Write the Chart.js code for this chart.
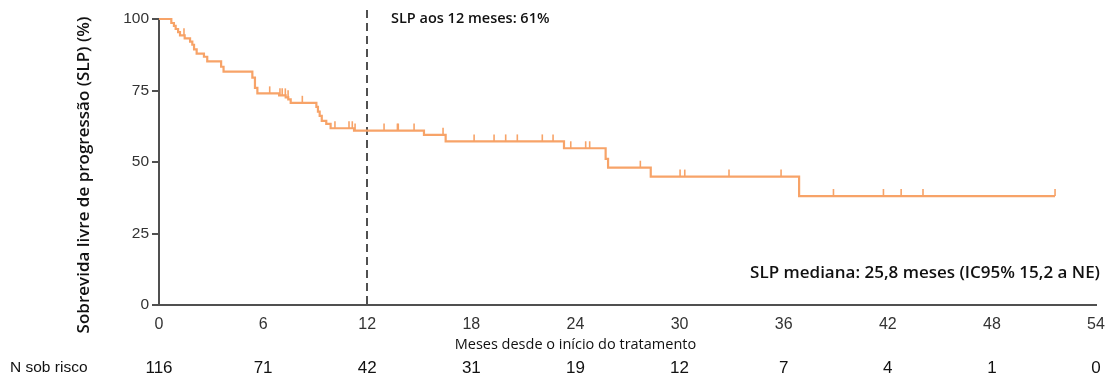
<!DOCTYPE html>
<html>
<head>
<meta charset="utf-8">
<script src="https://cdn.jsdelivr.net/npm/chart.js@4/dist/chart.umd.min.js"></script>
<style>
  html, body { margin: 0; padding: 0; background: #fff; }
  #wrap { width: 1116px; height: 383px; position: relative; }
</style>
</head>
<body>
<div id="wrap"><canvas id="km"></canvas></div>
<script>
// Kaplan–Meier steps: month of each event and survival (%) right after it
const eventMonths = [0, 0.71, 0.86, 0.96, 1.10, 1.21, 1.48, 1.79, 1.92, 2.02, 2.17, 2.59, 2.78,
  3.58, 3.72, 5.38, 5.53, 5.67, 6.92, 7.30, 7.45, 7.59, 9.07, 9.16, 9.26, 9.38, 9.64, 9.89,
  11.24, 15.27, 16.52, 23.34, 25.74, 25.88, 28.34, 36.89];
const survivalPct = [100, 98.6, 97.6, 96.5, 95.4, 94.3, 93.2, 92.1, 91.0, 89.4, 87.9, 86.8, 85.2,
  83.3, 81.6, 79.5, 75.9, 74.0, 73.3, 72.6, 71.9, 70.7, 69.3, 67.6, 66.1, 64.4, 63.3, 61.8,
  61.0, 59.5, 57.2, 54.8, 51.1, 48.0, 44.9, 38.1];
// Censored patients (months)
const censorMonths = [1.44, 6.38, 6.97, 7.10, 7.28, 7.44, 8.26, 10.14, 10.95, 11.14, 11.30,
  12.97, 13.74, 13.79, 14.70, 16.37, 18.16, 19.31, 19.98, 20.65, 22.09, 22.71, 23.73, 24.59,
  24.82, 27.74, 30.03, 30.30, 32.85, 35.85, 38.87, 41.75, 42.77, 44.03, 51.64];
const lastFollowUp = 51.64;

const xTickMonths = [0, 6, 12, 18, 24, 30, 36, 42, 48, 54];
const atRisk = [116, 71, 42, 31, 19, 12, 7, 4, 1, 0];
const yTickValues = [0, 25, 50, 75, 100];

const landmarkMonth = 12;
const landmarkLabel = 'SLP aos 12 meses: 61%';
const medianLabel = 'SLP mediana: 25,8 meses (IC95% 15,2 a NE)';
const yTitle = 'Sobrevida livre de progressão (SLP) (%)';
const xTitle = 'Meses desde o início do tratamento';
const riskTitle = 'N sob risco';

const curveColor = 'rgb(247,163,104)';
const axisColor = '#505050';

// Step curve points, extended to the last follow-up
const curvePoints = eventMonths.map((m, i) => ({ x: m, y: survivalPct[i] }));
curvePoints.push({ x: lastFollowUp, y: survivalPct[survivalPct.length - 1] });

function survivalAt(month) {
  let s = survivalPct[0];
  for (let i = 0; i < eventMonths.length; i++) {
    if (eventMonths[i] <= month) s = survivalPct[i];
  }
  return s;
}

const overlay = {
  id: 'kmOverlay',
  beforeDatasetsDraw(chart) {
    const { ctx, scales: { x, y } } = chart;
    // landmark dashed line at 12 months
    ctx.save();
    ctx.strokeStyle = axisColor;
    ctx.lineWidth = 2;
    ctx.setLineDash([8, 5]);
    const lx = Math.round(x.getPixelForValue(landmarkMonth));
    ctx.beginPath();
    ctx.moveTo(lx, 10);
    ctx.lineTo(lx, y.getPixelForValue(0));
    ctx.stroke();
    ctx.restore();
  },
  afterDatasetsDraw(chart) {
    const { ctx, scales: { x, y } } = chart;
    ctx.save();
    // censor marks: short upward ticks on the curve
    ctx.strokeStyle = curveColor;
    ctx.lineWidth = 1.6;
    censorMonths.forEach(m => {
      const px = x.getPixelForValue(m);
      const py = y.getPixelForValue(survivalAt(m));
      ctx.beginPath();
      ctx.moveTo(px, py);
      ctx.lineTo(px, py - 7);
      ctx.stroke();
    });
    ctx.restore();

    ctx.save();
    ctx.fillStyle = '#111';
    ctx.textBaseline = 'middle';
    // annotations
    ctx.font = '600 14.5px "Open Sans", sans-serif';
    ctx.textAlign = 'left';
    ctx.fillText(landmarkLabel, 391, 19);
    ctx.font = '600 17px "Open Sans", sans-serif';
    ctx.textAlign = 'right';
    ctx.fillText(medianLabel, 1100, 273);

    // y axis title
    ctx.save();
    ctx.translate(84, 175);
    ctx.rotate(-Math.PI / 2);
    ctx.textAlign = 'center';
    ctx.font = '600 17px "Open Sans", sans-serif';
    ctx.fillText(yTitle, 0, 0);
    ctx.restore();

    // x axis title
    ctx.textAlign = 'center';
    ctx.font = '500 14.5px "Open Sans", sans-serif';
    ctx.fillText(xTitle, x.getPixelForValue(24), 345);

    // number at risk
    ctx.font = '15.5px "Liberation Sans Narrow", "Liberation Sans", sans-serif';
    ctx.textAlign = 'left';
    ctx.fillText(riskTitle, 10, 368);
    ctx.font = '17px "Liberation Sans Narrow", "Liberation Sans", sans-serif';
    ctx.textAlign = 'center';
    atRisk.forEach((n, i) => {
      ctx.fillText(String(n), x.getPixelForValue(xTickMonths[i]), 368);
    });
    ctx.restore();
  }
};

new Chart(document.getElementById('km'), {
  type: 'line',
  data: {
    datasets: [{
      data: curvePoints,
      stepped: 'before',
      borderColor: curveColor,
      borderWidth: 2.2,
      pointRadius: 0,
      fill: false,
      clip: false
    }]
  },
  options: {
    responsive: true,
    maintainAspectRatio: false,
    animation: false,
    events: [],
    layout: { padding: { top: 19, right: 20, bottom: 0, left: 0 } },
    plugins: { legend: { display: false }, tooltip: { enabled: false } },
    scales: {
      x: {
        type: 'linear',
        min: 0, max: 54,
        afterFit(scale) { scale.height = 78; },
        afterBuildTicks(scale) { scale.ticks = xTickMonths.map(v => ({ value: v })); },
        grid: { display: true, drawOnChartArea: false, drawTicks: false },
        border: { display: true, color: axisColor, width: 2 },
        ticks: {
          padding: 10,
          color: '#333',
          font: { family: '"Liberation Sans Narrow", "Liberation Sans", sans-serif', size: 16 }
        }
      },
      y: {
        type: 'linear',
        min: 0, max: 100,
        afterFit(scale) { scale.width = 159; },
        afterBuildTicks(scale) { scale.ticks = yTickValues.map(v => ({ value: v })); },
        grid: { display: true, drawOnChartArea: false, drawTicks: true, tickLength: 7, color: axisColor, lineWidth: 2 },
        border: { display: true, color: axisColor, width: 2 },
        ticks: {
          padding: 3,
          color: '#333',
          font: { family: '"Liberation Sans", Arial, sans-serif', size: 15.5 }
        }
      }
    }
  },
  plugins: [overlay]
});
</script>
</body>
</html>
